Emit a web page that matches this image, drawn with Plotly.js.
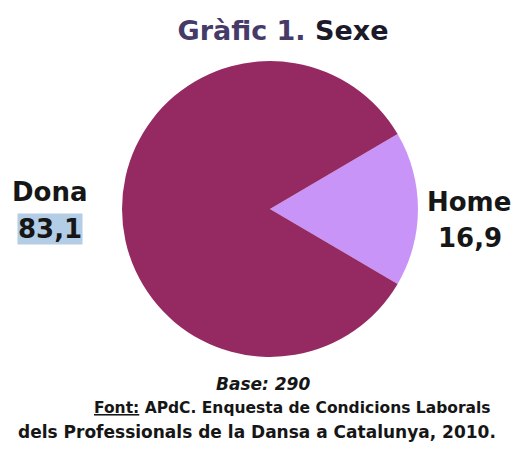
<!DOCTYPE html>
<html>
<head>
<meta charset="utf-8">
<script src="https://cdn.plot.ly/plotly-3.0.1.min.js"></script>
<style>html,body{margin:0;padding:0;background:#fff;}#chart{width:513px;height:454px;}</style>
</head>
<body>
<div id="chart"></div>
<script>
const categories = ['Home', 'Dona'];
const values = [16.9, 83.1];
const colors = ['#C994F7', '#952A62'];
const titleText = 'Gràfic 1. <span style="color:#1c1a2a">Sexe</span>';
const baseText = '<i>Base: 290</i>';
const sourceLines = ['<u>Font:</u> APdC. Enquesta de Condicions Laborals', 'dels Professionals de la Dansa a Catalunya, 2010.'];

const fmt = v => v.toFixed(1).replace('.', ',');
const font = 'DejaVu Sans, Verdana, sans-serif';
const txt = '#161616';

const data = [{
  type: 'pie',
  labels: categories,
  values: values,
  sort: false,
  direction: 'clockwise',
  rotation: 90 - values[0] / 100 * 180,
  marker: {colors: colors, line: {width: 0}},
  textinfo: 'none',
  hoverinfo: 'label+value',
  showlegend: false,
  domain: {x: [0.2378, 0.8148], y: [0.2137, 0.8656]}
}];

function ann(text, cx, cy, size, extra) {
  return Object.assign({text: text, x: cx / 513, y: 1 - cy / 454, xref: 'paper', yref: 'paper',
    xanchor: 'center', yanchor: 'middle', showarrow: false,
    font: {family: font, size: size, color: txt, weight: 'bold'}}, extra || {});
}

const layout = {
  width: 513, height: 454,
  margin: {l: 0, r: 0, t: 0, b: 0},
  paper_bgcolor: '#ffffff',
  title: {text: titleText, x: 283 / 513, xanchor: 'center', y: 1 - 31 / 454, yanchor: 'middle',
    font: {family: font, size: 27, color: '#463a68', weight: 'bold'}},
  annotations: [
    ann(categories[1], 50, 192, 26),
    ann(fmt(values[1]), 49.5, 229, 26, {bgcolor: '#b3cde6', borderpad: 0}),
    ann(categories[0], 469, 202, 26),
    ann(fmt(values[0]), 470, 238, 26),
    ann(baseText, 263, 384, 17),
    ann(sourceLines[0], 292, 408, 15.5),
    ann(sourceLines[1], 256.5, 432, 17)
  ]
};

Plotly.newPlot('chart', data, layout, {displayModeBar: false, staticPlot: true});
</script>
</body>
</html>
